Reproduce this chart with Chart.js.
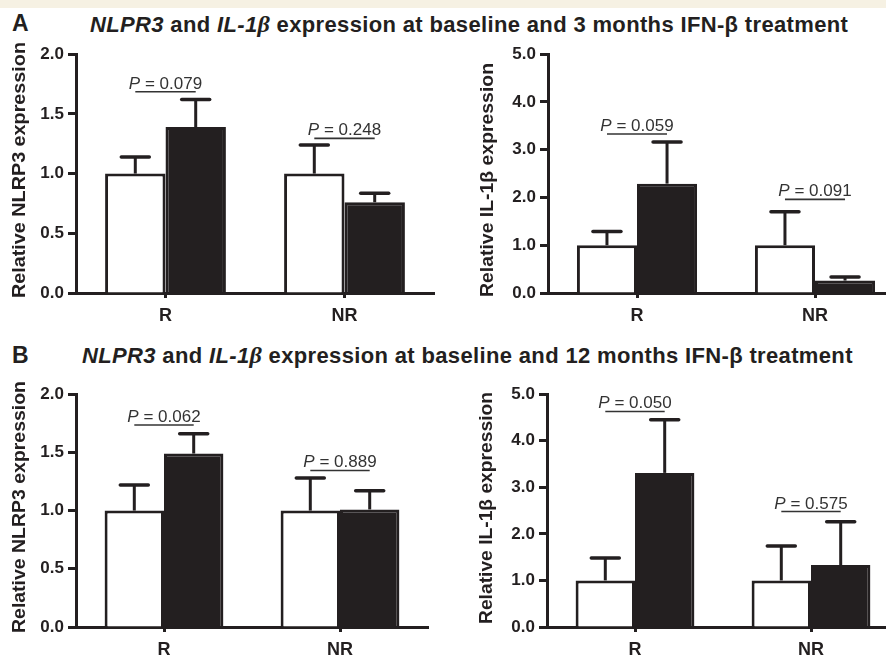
<!DOCTYPE html>
<html>
<head>
<meta charset="utf-8">
<script src="https://cdn.jsdelivr.net/npm/chart.js@4.4.1/dist/chart.umd.min.js"></script>
<style>
  html, body { margin: 0; padding: 0; width: 886px; height: 655px; overflow: hidden; background: #fff; }
  body { position: relative; font-family: "Liberation Sans", Arial, sans-serif; color: #231f20; }
  .band { position: absolute; left: 0; top: 0; width: 886px; height: 8px; background: #f6f1e3; }
  .letter { position: absolute; font-weight: bold; font-size: 23px; line-height: 1; }
  .title { position: absolute; font-weight: bold; font-size: 22px; line-height: 1; white-space: nowrap; letter-spacing: 0.35px; }
  .title .b { font-family: "Liberation Serif", serif; font-style: italic; font-size: 24px; }
  canvas { position: absolute; }
</style>
</head>
<body>
<div class="band"></div>
<div class="letter" style="left:12px;top:12px">A</div>
<div class="title" style="left:90px;top:12px"><i>NLPR3</i> and <i>IL-1<span class="b">β</span></i> expression at baseline and 3 months IFN-β treatment</div>
<div class="letter" style="left:12px;top:344px">B</div>
<div class="title" style="left:82px;top:343px"><i>NLPR3</i> and <i>IL-1<span class="b">β</span></i> expression at baseline and 12 months IFN-β treatment</div>

<canvas id="aLeft" width="443" height="285" style="left:0;top:40px"></canvas>
<canvas id="aRight" width="440" height="285" style="left:470px;top:40px"></canvas>
<canvas id="bLeft" width="440" height="279" style="left:0;top:380px"></canvas>
<canvas id="bRight" width="440" height="279" style="left:470px;top:380px"></canvas>

<script>
const INK = '#231f20';
const FONT = '"Liberation Sans", Arial, sans-serif';

const categories = ['R', 'NR'];
const nlrp3Ticks = [0, 0.5, 1.0, 1.5, 2.0];
const il1bTicks = [0, 1.0, 2.0, 3.0, 4.0, 5.0];

// A: 3 months
const nlrp3BaseA = [1.0, 1.0];
const nlrp3BaseErrA = [0.14, 0.24];
const nlrp3TreatA = [1.39, 0.76];
const nlrp3TreatErrA = [0.23, 0.075];
const nlrp3PA = ['0.079', '0.248'];
const nlrp3BracketA = [1.685, 1.295];

const il1bBaseA = [1.0, 1.0];
const il1bBaseErrA = [0.29, 0.70];
const il1bTreatA = [2.29, 0.26];
const il1bTreatErrA = [0.87, 0.075];
const il1bPA = ['0.059', '0.091'];
const il1bBracketA = [3.33, 1.96];

// B: 12 months
const nlrp3BaseB = [1.0, 1.0];
const nlrp3BaseErrB = [0.22, 0.28];
const nlrp3TreatB = [1.49, 1.01];
const nlrp3TreatErrB = [0.17, 0.16];
const nlrp3PB = ['0.062', '0.889'];
const nlrp3BracketB = [1.735, 1.345];

const il1bBaseB = [1.0, 1.0];
const il1bBaseErrB = [0.48, 0.74];
const il1bTreatB = [3.31, 1.33];
const il1bTreatErrB = [1.14, 0.93];
const il1bPB = ['0.050', '0.575'];
const il1bBracketB = [4.63, 2.48];

const errorBars = {
  id: 'errorBars',
  afterDatasetsDraw(chart, args, opts) {
    const { ctx } = chart;
    const y = chart.scales.y;
    ctx.save();
    ctx.strokeStyle = INK;
    opts.errors.forEach((errs, i) => {
      const meta = chart.getDatasetMeta(i);
      const vals = chart.data.datasets[i].data;
      meta.data.forEach((bar, j) => {
        const top = y.getPixelForValue(vals[j] + errs[j]);
        ctx.lineWidth = 3;
        ctx.lineCap = 'butt';
        ctx.beginPath();
        ctx.moveTo(bar.x, bar.y);
        ctx.lineTo(bar.x, top);
        ctx.stroke();
        ctx.lineWidth = 3.5;
        ctx.lineCap = 'round';
        ctx.beginPath();
        ctx.moveTo(bar.x - 14, top);
        ctx.lineTo(bar.x + 14, top);
        ctx.stroke();
      });
    });

    // p-value brackets
    const m0 = chart.getDatasetMeta(0);
    const m1 = chart.getDatasetMeta(1);
    opts.brackets.forEach((v, j) => {
      const x0 = m0.data[j].x;
      const x1 = m1.data[j].x;
      const ly = y.getPixelForValue(v);
      ctx.strokeStyle = '#333';
      ctx.lineWidth = 1.6;
      ctx.lineCap = 'butt';
      ctx.beginPath();
      ctx.moveTo(x0, ly);
      ctx.lineTo(x1, ly);
      ctx.stroke();

      const rest = ' = ' + opts.pvals[j];
      ctx.fillStyle = '#333';
      ctx.textBaseline = 'alphabetic';
      ctx.font = 'italic 17px ' + FONT;
      const wP = ctx.measureText('P').width;
      ctx.font = '17px ' + FONT;
      const wR = ctx.measureText(rest).width;
      const start = (x0 + x1) / 2 - (wP + wR) / 2;
      ctx.font = 'italic 17px ' + FONT;
      ctx.fillText('P', start, ly - 3);
      ctx.font = '17px ' + FONT;
      ctx.fillText(rest, start + wP, ly - 3);
    });
    ctx.restore();
  },
};

// rotated y title, stretched to the length seen in the figure
const yTitle = {
  id: 'yTitle',
  afterDraw(chart, args, opts) {
    const { ctx, chartArea } = chart;
    ctx.save();
    ctx.font = 'bold 18px ' + FONT;
    const w = ctx.measureText(opts.text).width;
    ctx.translate(chartArea.left - opts.offset, opts.center);
    ctx.rotate(-Math.PI / 2);
    ctx.scale(opts.length / w, 1);
    ctx.textAlign = 'center';
    ctx.textBaseline = 'alphabetic';
    ctx.fillStyle = INK;
    ctx.fillText(opts.text, 0, 0);
    ctx.restore();
  },
};

function makePanel(id, p) {
  return new Chart(document.getElementById(id), {
    type: 'bar',
    data: {
      labels: categories,
      datasets: [
        { label: 'Baseline', data: p.base, backgroundColor: '#fff', borderColor: INK, borderWidth: 3, borderSkipped: 'bottom' },
        { label: 'Treatment', data: p.treat, backgroundColor: INK, borderColor: INK, borderWidth: 3, borderSkipped: 'bottom' },
      ],
    },
    options: {
      responsive: false,
      animation: false,
      layout: { padding: p.padding },
      categoryPercentage: 0.675,
      barPercentage: 1.0,
      plugins: {
        legend: { display: false },
        tooltip: { enabled: false },
        errorBars: { errors: [p.baseErr, p.treatErr], brackets: p.brackets, pvals: p.pvals },
        yTitle: { text: p.yTitle, offset: p.titleOffset, length: p.titleLength, center: p.titleCenter },
      },
      scales: {
        x: {
          afterFit: (s) => { s.height = 32; },
          grid: { display: true, drawOnChartArea: false, offset: false, tickLength: 5, tickWidth: 3, tickColor: INK },
          border: { color: INK, width: 3 },
          ticks: { color: INK, padding: 7, font: { family: FONT, size: 18, weight: 'bold' } },
        },
        y: {
          min: p.ticks[0],
          max: p.ticks[p.ticks.length - 1],
          afterFit: (s) => { s.width = p.yWidth; },
          afterBuildTicks: (s) => { s.ticks = p.ticks.map((v) => ({ value: v })); },
          grid: { display: true, drawOnChartArea: false, tickLength: 8, tickWidth: 3, tickColor: INK },
          border: { color: INK, width: 3 },
          ticks: {
            color: INK, padding: 4,
            font: { family: FONT, size: 17, weight: 'bold' },
            callback: (v) => Number(v).toFixed(1),
          },
        },
      },
    },
    plugins: [errorBars, yTitle],
  });
}

makePanel('aLeft', {
  base: nlrp3BaseA, baseErr: nlrp3BaseErrA, treat: nlrp3TreatA, treatErr: nlrp3TreatErrA,
  pvals: nlrp3PA, brackets: nlrp3BracketA, ticks: nlrp3Ticks, yTitle: 'Relative NLRP3 expression',
  titleOffset: 51, titleLength: 256, titleCenter: 130,
  yWidth: 66, padding: { left: 10, top: 12, right: 9, bottom: 0 },
});
makePanel('aRight', {
  base: il1bBaseA, baseErr: il1bBaseErrA, treat: il1bTreatA, treatErr: il1bTreatErrA,
  pvals: il1bPA, brackets: il1bBracketA, ticks: il1bTicks, yTitle: 'Relative IL-1β expression',
  titleOffset: 55, titleLength: 234, titleCenter: 140,
  yWidth: 70, padding: { left: 8, top: 12, right: 6, bottom: 0 },
});
makePanel('bLeft', {
  base: nlrp3BaseB, baseErr: nlrp3BaseErrB, treat: nlrp3TreatB, treatErr: nlrp3TreatErrB,
  pvals: nlrp3PB, brackets: nlrp3BracketB, ticks: nlrp3Ticks, yTitle: 'Relative NLRP3 expression',
  titleOffset: 51, titleLength: 252, titleCenter: 127,
  yWidth: 66, padding: { left: 10, top: 11, right: 12, bottom: 0 },
});
makePanel('bRight', {
  base: il1bBaseB, baseErr: il1bBaseErrB, treat: il1bTreatB, treatErr: il1bTreatErrB,
  pvals: il1bPB, brackets: il1bBracketB, ticks: il1bTicks, yTitle: 'Relative IL-1β expression',
  titleOffset: 55, titleLength: 232, titleCenter: 128,
  yWidth: 70, padding: { left: 7, top: 11, right: 11, bottom: 0 },
});
</script>
</body>
</html>
